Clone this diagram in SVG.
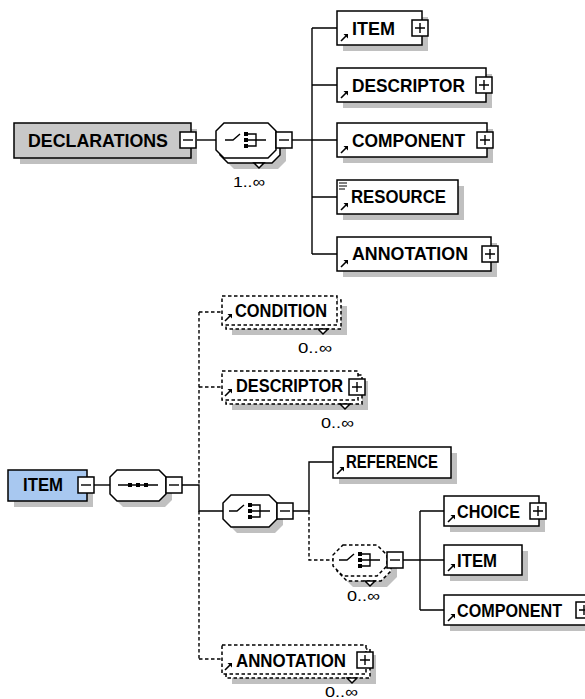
<svg xmlns="http://www.w3.org/2000/svg" width="585" height="699" viewBox="0 0 585 699">
  <style>
    .box { fill: #fff; stroke: #000; stroke-width: 1.5; }
    .dash { stroke-dasharray: 3.5 2.5; }
    .shadow { fill: #c0c0c0; stroke: none; }
    .line { fill: none; stroke: #000; stroke-width: 1.4; }
    .lbl { font-family: "Liberation Sans", Arial, sans-serif; font-weight: bold; font-size: 19px; fill: #000; }
    .lbl2 { font-family: "Liberation Sans", Arial, sans-serif; font-weight: bold; font-size: 18px; fill: #000; }
    .occ { font-family: "Liberation Sans", Arial, sans-serif; font-size: 15px; fill: #000; }
  </style>
  <defs>
    <!-- reference arrow shown in the lower-left corner of referenced elements -->
    <g id="ref">
      <path d="M0,7 L5,2" stroke="#000" stroke-width="1.6" fill="none"/>
      <polygon points="2.5,0 7,0 7,4.5" fill="#000"/>
    </g>
    <!-- expand / collapse buttons -->
    <g id="plus">
      <rect x="0" y="0" width="16" height="16" class="box"/>
      <path d="M3,8 H13 M8,3 V13" stroke="#000" stroke-width="1.4"/>
    </g>
    <g id="minus">
      <rect x="0" y="0" width="16" height="16" class="box"/>
      <path d="M3,8 H13" stroke="#000" stroke-width="1.4"/>
    </g>
    <!-- compositor icons, centred on the origin -->
    <g id="choiceIcon" stroke="#000" stroke-width="1.4" fill="none">
      <path d="M-21,0 H-13 L-6,-6"/>
      <path d="M2,-6 H10 V6 H2 M2,0 H20"/>
      <rect x="-2" y="-8" width="4" height="4" fill="#000" stroke="none"/>
      <rect x="-2" y="-2" width="4" height="4" fill="#000" stroke="none"/>
      <rect x="-2" y="4" width="4" height="4" fill="#000" stroke="none"/>
    </g>
    <g id="seqIcon">
      <path d="M-20,0 H20" stroke="#000" stroke-width="1.4"/>
      <rect x="-10" y="-2" width="4" height="4" fill="#000"/>
      <rect x="-2" y="-2" width="4" height="4" fill="#000"/>
      <rect x="6" y="-2" width="4" height="4" fill="#000"/>
    </g>
  </defs>

  <!-- ============ connectors ============ -->
  <g id="connectors">
    <!-- DECLARATIONS tree -->
    <path class="line" d="M197,140 H216"/>
    <path class="line" d="M292,140 H312"/>
    <path class="line" d="M312,28 V254"/>
    <path class="line" d="M312,28 H337 M312,85 H337 M312,140 H337 M312,197 H337 M312,254 H337"/>
    <!-- ITEM tree -->
    <path class="line" d="M94,485 H110"/>
    <path class="line" d="M182,485 H199 V511 H223"/>
    <path class="line dash" d="M199,312 V485 M199,511 V659"/>
    <path class="line dash" d="M199,312 H222 M199,387 H222 M199,659 H222"/>
    <path class="line" d="M293,511 H309 V462 H333"/>
    <path class="line dash" d="M309,511 V560 H333"/>
    <path class="line" d="M403,560 H444"/>
    <path class="line" d="M420,511 V610"/>
    <path class="line" d="M420,511 H444 M420,610 H444"/>
  </g>

  <!-- ============ DECLARATIONS ============ -->
  <g id="declarations">
    <rect class="shadow" x="20" y="129" width="177" height="35"/>
    <rect class="box" x="14" y="123" width="177" height="35" style="fill:#c8c8c8"/>
    <text class="lbl" x="28" y="147" textLength="140" lengthAdjust="spacingAndGlyphs">DECLARATIONS</text>
    <use href="#minus" x="180" y="132"/>
  </g>

  <g id="declarations-choice">
    <path class="shadow" d="M234,134 H278 L286,142 V161 L278,169 H234 L226,161 V142 Z"/>
    <path class="box" d="M228,128 H272 L280,136 V155 L272,163 H228 L220,155 V136 Z"/>
    <path class="box" d="M224,123 H268 L276,131 V150 L268,158 H224 L216,150 V131 Z"/>
    <polygon class="box" points="254,163 259,168 264,163"/>
    <use href="#choiceIcon" x="246" y="140"/>
    <use href="#minus" x="276" y="132"/>
    <text class="occ" x="233" y="187" textLength="32" lengthAdjust="spacingAndGlyphs">1..∞</text>
  </g>

  <g id="decl-item">
    <rect class="shadow" x="343" y="17" width="85" height="34"/>
    <rect class="box" x="337" y="11" width="85" height="34"/>
    <use href="#ref" x="341" y="34"/>
    <text class="lbl" x="352" y="35" textLength="43" lengthAdjust="spacingAndGlyphs">ITEM</text>
    <use href="#plus" x="412" y="20"/>
  </g>

  <g id="decl-descriptor">
    <rect class="shadow" x="343" y="74" width="149" height="34"/>
    <rect class="box" x="337" y="68" width="149" height="34"/>
    <use href="#ref" x="341" y="91"/>
    <text class="lbl" x="352" y="92" textLength="113" lengthAdjust="spacingAndGlyphs">DESCRIPTOR</text>
    <use href="#plus" x="476" y="77"/>
  </g>

  <g id="decl-component">
    <rect class="shadow" x="343" y="129" width="150" height="34"/>
    <rect class="box" x="337" y="123" width="150" height="34"/>
    <use href="#ref" x="341" y="146"/>
    <text class="lbl" x="352" y="147" textLength="113" lengthAdjust="spacingAndGlyphs">COMPONENT</text>
    <use href="#plus" x="477" y="132"/>
  </g>

  <g id="decl-resource">
    <rect class="shadow" x="343" y="186" width="121" height="34"/>
    <rect class="box" x="337" y="180" width="121" height="34"/>
    <path d="M339,183 H347 M339,186 H347 M339,189 H345" stroke="#000" stroke-width="1.2"/>
    <use href="#ref" x="341" y="203"/>
    <text class="lbl" x="351" y="203" textLength="95" lengthAdjust="spacingAndGlyphs">RESOURCE</text>
  </g>

  <g id="decl-annotation">
    <rect class="shadow" x="343" y="243" width="154" height="34"/>
    <rect class="box" x="337" y="237" width="154" height="34"/>
    <use href="#ref" x="341" y="260"/>
    <text class="lbl" x="352" y="260" textLength="116" lengthAdjust="spacingAndGlyphs">ANNOTATION</text>
    <use href="#plus" x="482" y="246"/>
  </g>

  <!-- ============ ITEM ============ -->
  <g id="item">
    <rect class="shadow" x="14" y="476" width="79" height="31"/>
    <rect class="box" x="8" y="470" width="79" height="31" style="fill:#a8c8f0"/>
    <text class="lbl2" x="23" y="491" textLength="40" lengthAdjust="spacingAndGlyphs">ITEM</text>
    <use href="#minus" x="78" y="477"/>
  </g>

  <g id="item-sequence">
    <path class="shadow" d="M123,476 H165 L172,483 V500 L165,507 H123 L116,500 V483 Z"/>
    <path class="box" d="M117,470 H159 L166,477 V494 L159,501 H117 L110,494 V477 Z"/>
    <use href="#seqIcon" x="138" y="485"/>
    <use href="#minus" x="166" y="477"/>
  </g>

  <g id="item-condition">
    <rect class="shadow" x="232" y="306" width="115" height="29"/>
    <rect class="box dash" x="226" y="300" width="115" height="29"/>
    <rect class="box dash" x="222" y="296" width="115" height="29"/>
    <polygon class="box" points="318,329 323,334 328,329"/>
    <use href="#ref" x="225" y="314"/>
    <text class="lbl2" x="235" y="317" textLength="92" lengthAdjust="spacingAndGlyphs">CONDITION</text>
    <text class="occ" x="298" y="353" textLength="34" lengthAdjust="spacingAndGlyphs">0..∞</text>
  </g>

  <g id="item-descriptor">
    <rect class="shadow" x="232" y="381" width="136" height="29"/>
    <rect class="box dash" x="226" y="375" width="136" height="29"/>
    <rect class="box dash" x="222" y="371" width="136" height="29"/>
    <polygon class="box" points="340,404 345,409 350,404"/>
    <use href="#ref" x="225" y="389"/>
    <text class="lbl2" x="236" y="392" textLength="107" lengthAdjust="spacingAndGlyphs">DESCRIPTOR</text>
    <use href="#plus" x="349" y="379"/>
    <text class="occ" x="321" y="428" textLength="33" lengthAdjust="spacingAndGlyphs">0..∞</text>
  </g>

  <g id="item-choice">
    <path class="shadow" d="M237,501 H275 L283,509 V525 L275,533 H237 L229,525 V509 Z"/>
    <path class="box" d="M231,495 H269 L277,503 V519 L269,527 H231 L223,519 V503 Z"/>
    <use href="#choiceIcon" x="250" y="511"/>
    <use href="#minus" x="277" y="503"/>
  </g>

  <g id="item-reference">
    <rect class="shadow" x="339" y="453" width="118" height="31"/>
    <rect class="box" x="333" y="447" width="118" height="31"/>
    <use href="#ref" x="337" y="467"/>
    <text class="lbl2" x="346" y="468" textLength="92" lengthAdjust="spacingAndGlyphs">REFERENCE</text>
  </g>

  <g id="item-inner-choice">
    <path class="shadow" d="M353,556 H387 L397,566 V577 L387,587 H353 L343,577 V566 Z"/>
    <path class="box dash" d="M347,550 H381 L391,560 V571 L381,581 H347 L337,571 V560 Z"/>
    <path class="box dash" d="M343,545 H377 L387,555 V566 L377,576 H343 L333,566 V555 Z"/>
    <polygon class="box" points="365,581 370,586 375,581"/>
    <use href="#choiceIcon" x="360" y="560"/>
    <use href="#minus" x="387" y="552"/>
    <text class="occ" x="347" y="601" textLength="33" lengthAdjust="spacingAndGlyphs">0..∞</text>
  </g>

  <g id="item-choice-el">
    <rect class="shadow" x="450" y="502" width="95" height="30"/>
    <rect class="box" x="444" y="496" width="95" height="30"/>
    <use href="#ref" x="448" y="515"/>
    <text class="lbl2" x="457" y="518" textLength="63" lengthAdjust="spacingAndGlyphs">CHOICE</text>
    <use href="#plus" x="530" y="503"/>
  </g>

  <g id="item-item">
    <rect class="shadow" x="450" y="551" width="78" height="30"/>
    <rect class="box" x="444" y="545" width="78" height="30"/>
    <use href="#ref" x="448" y="564"/>
    <text class="lbl2" x="457" y="567" textLength="40" lengthAdjust="spacingAndGlyphs">ITEM</text>
  </g>

  <g id="item-component">
    <rect class="shadow" x="450" y="601" width="143" height="30"/>
    <rect class="box" x="444" y="595" width="143" height="30"/>
    <use href="#ref" x="448" y="614"/>
    <text class="lbl2" x="457" y="617" textLength="105" lengthAdjust="spacingAndGlyphs">COMPONENT</text>
    <use href="#plus" x="576" y="602"/>
  </g>

  <g id="item-annotation">
    <rect class="shadow" x="232" y="655" width="144" height="29"/>
    <rect class="box dash" x="226" y="649" width="144" height="29"/>
    <rect class="box dash" x="222" y="645" width="144" height="29"/>
    <polygon class="box" points="347,678 352,683 357,678"/>
    <use href="#ref" x="225" y="663"/>
    <text class="lbl2" x="236" y="667" textLength="110" lengthAdjust="spacingAndGlyphs">ANNOTATION</text>
    <use href="#plus" x="357" y="652"/>
    <text class="occ" x="325" y="697" textLength="33" lengthAdjust="spacingAndGlyphs">0..∞</text>
  </g>
</svg>
